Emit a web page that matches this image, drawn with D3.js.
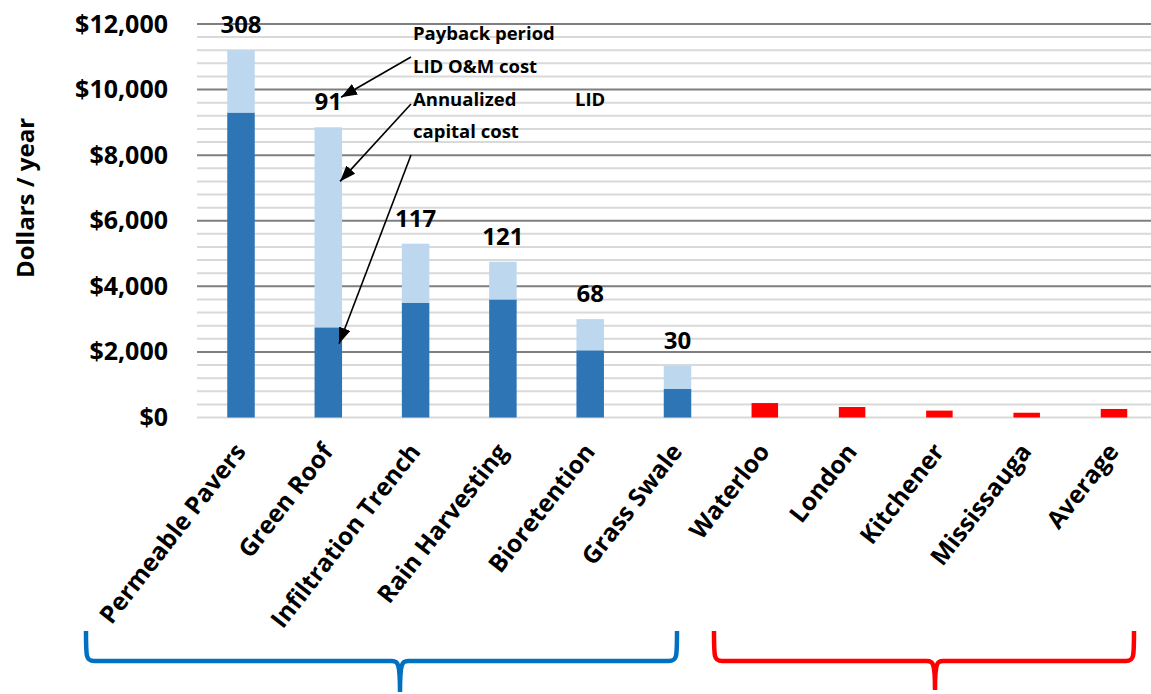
<!DOCTYPE html>
<html>
<head>
<meta charset="utf-8">
<script src="https://cdn.jsdelivr.net/npm/d3@7"></script>
<style>
  body { margin: 0; background: #fff; }
  text { font-family: "Open Sans", sans-serif; font-weight: 700; fill: #000; }
</style>
</head>
<body>
<div id="chart"></div>
<script>
// data
const categories = ["Permeable Pavers", "Green Roof", "Infiltration Trench", "Rain Harvesting",
    "Bioretention", "Grass Swale", "Waterloo", "London", "Kitchener", "Mississauga", "Average"];
const lidNames = ["Permeable Pavers", "Green Roof", "Infiltration Trench", "Rain Harvesting",
    "Bioretention", "Grass Swale"];
const capitalCost = [9300, 2750, 3500, 3600, 2050, 870];
const omCost = [1900, 6100, 1800, 1150, 950, 700];
const paybackYears = [308, 91, 117, 121, 68, 30];
const cities = ["Waterloo", "London", "Kitchener", "Mississauga", "Average"];
const cityFee = [440, 320, 210, 145, 260];
const yTicks = [0, 2000, 4000, 6000, 8000, 10000, 12000];

const width = 1151, height = 694;

const svg = d3.select('#chart')
    .append('svg')
    .attr('width', width)
    .attr('height', height);

const x = d3.scaleBand()
    .domain(categories)
    .range([197.35, 1157.65])
    .paddingInner(0.685)
    .paddingOuter(0.3425);

const y = d3.scaleLinear()
    .domain([0, 12000])
    .range([417.5, 24]);

const bw = x.bandwidth();

// gridlines: minor every 400, major every 2000
svg.append('g')
    .selectAll('line')
    .data(d3.range(400, 12000, 400).filter(d => d % 2000 != 0))
    .join('line')
    .attr('x1', 197).attr('x2', width)
    .attr('y1', d => y(d)).attr('y2', d => y(d))
    .attr('stroke', '#d9d9d9')
    .attr('stroke-width', 2);

svg.append('g')
    .selectAll('line')
    .data(yTicks)
    .join('line')
    .attr('x1', 197).attr('x2', width)
    .attr('y1', d => y(d)).attr('y2', d => y(d))
    .attr('stroke', d => d == 0 ? '#d9d9d9' : '#7f7f7f')
    .attr('stroke-width', 2);

// y axis labels
const yAxis = svg.append('g')
    .attr('transform', 'translate(168,0)')
    .call(d3.axisLeft(y).tickValues(yTicks).tickSize(0).tickPadding(0).tickFormat(d3.format('$,')));
yAxis.select('.domain').remove();
yAxis.selectAll('text')
    .attr('font-family', '"Open Sans", sans-serif')
    .attr('font-weight', 700)
    .attr('font-size', '25px')
    .attr('fill', '#000');

svg.append('text')
    .attr('transform', 'translate(34,198) rotate(-90)')
    .attr('text-anchor', 'middle')
    .attr('font-size', '24px')
    .text('Dollars / year');

// stacked LID bars
const lidRows = lidNames.map((n, i) => ({name: n, capital: capitalCost[i], om: omCost[i]}));
const stacked = d3.stack().keys(['capital', 'om'])(lidRows);
const segColor = {capital: '#2e75b6', om: '#bdd7ee'};

svg.append('g')
    .selectAll('g')
    .data(stacked)
    .join('g')
    .attr('fill', d => segColor[d.key])
    .selectAll('rect')
    .data(d => d)
    .join('rect')
    .attr('x', d => x(d.data.name))
    .attr('y', d => y(d[1]))
    .attr('width', bw)
    .attr('height', d => y(d[0]) - y(d[1]));

// payback period labels
svg.append('g')
    .selectAll('text')
    .data(lidRows)
    .join('text')
    .attr('x', d => x(d.name) + bw / 2)
    .attr('y', d => y(d.capital + d.om) - 17)
    .attr('text-anchor', 'middle')
    .attr('font-size', '24px')
    .text((d, i) => paybackYears[i]);

// city bars
svg.append('g')
    .selectAll('rect')
    .data(cities)
    .join('rect')
    .attr('x', d => x(d) + 0.5)
    .attr('y', (d, i) => y(cityFee[i]))
    .attr('width', bw - 1)
    .attr('height', (d, i) => y(0) - y(cityFee[i]))
    .attr('fill', '#ff0000');

// category labels
svg.append('g')
    .selectAll('text')
    .data(categories)
    .join('text')
    .attr('transform', d => `translate(${x(d) + bw / 2 + 6},452) rotate(-52)`)
    .attr('text-anchor', 'end')
    .attr('font-size', '24.5px')
    .text(d => d);

// annotation text
const notes = [
    {t: 'Payback period', x: 413, y: 40},
    {t: 'LID O&M cost', x: 413, y: 73},
    {t: 'Annualized', x: 413, y: 106},
    {t: 'LID', x: 575, y: 106},
    {t: 'capital cost', x: 413, y: 138}
];
svg.append('g')
    .selectAll('text')
    .data(notes)
    .join('text')
    .attr('x', d => d.x)
    .attr('y', d => d.y)
    .attr('font-size', '18.5px')
    .text(d => d.t);

svg.append('defs').append('marker')
    .attr('id', 'arrow')
    .attr('markerUnits', 'userSpaceOnUse')
    .attr('viewBox', '0 0 16 12')
    .attr('refX', 16).attr('refY', 6)
    .attr('markerWidth', 16).attr('markerHeight', 12)
    .attr('orient', 'auto')
    .append('path')
    .attr('d', 'M0,0L16,6L0,12Z')
    .attr('fill', '#000');

// arrows point at the Green Roof bar
const gx = x('Green Roof') + bw;
const arrows = [
    {x1: 411, y1: 57, x2: gx - 1, y2: y(8850) - 30},
    {x1: 411, y1: 104, x2: gx - 2, y2: y(7200)},
    {x1: 411, y1: 155, x2: gx - 3, y2: y(2250)}
];
svg.append('g')
    .selectAll('line')
    .data(arrows)
    .join('line')
    .attr('x1', d => d.x1).attr('y1', d => d.y1)
    .attr('x2', d => d.x2).attr('y2', d => d.y2)
    .attr('stroke', '#000')
    .attr('stroke-width', 1.6)
    .attr('marker-end', 'url(#arrow)');

// braces under the two groups
function brace(x0, x1, cx, top, mid, tip) {
    return `M${x0},${top} C${x0},${mid - 4} ${x0},${mid} ${x0 + 8},${mid}` +
        ` L${cx - 8},${mid} C${cx - 2},${mid} ${cx},${mid + 2} ${cx},${tip}` +
        ` C${cx},${mid + 2} ${cx + 2},${mid} ${cx + 8},${mid}` +
        ` L${x1 - 8},${mid} C${x1},${mid} ${x1},${mid - 4} ${x1},${top}`;
}
svg.append('path')
    .attr('d', brace(86, 677, 400, 631, 661, 692))
    .attr('fill', 'none')
    .attr('stroke', '#0070c0')
    .attr('stroke-width', 4.5);
svg.append('path')
    .attr('d', brace(714, 1134, 935, 631, 661, 690))
    .attr('fill', 'none')
    .attr('stroke', '#ff0000')
    .attr('stroke-width', 4.5);
</script>
</body>
</html>
